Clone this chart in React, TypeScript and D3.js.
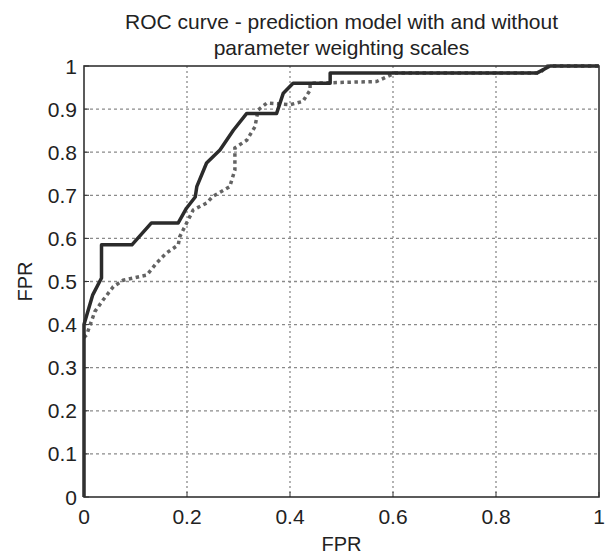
import * as d3 from 'd3';
import { useEffect, useRef } from 'react';

// ROC curve points [FPR, TPR]
const withWeighting: [number, number][] = [
  [0, 0], [0, 0.40], [0.017, 0.469], [0.034, 0.508], [0.034, 0.585], [0.093, 0.585],
  [0.131, 0.636], [0.183, 0.636], [0.199, 0.67], [0.216, 0.696], [0.219, 0.72],
  [0.238, 0.775], [0.264, 0.805], [0.29, 0.851], [0.316, 0.89], [0.374, 0.89],
  [0.387, 0.937], [0.406, 0.96], [0.478, 0.96], [0.478, 0.984], [0.88, 0.984],
  [0.905, 1], [1, 1],
];

const withoutWeighting: [number, number][] = [
  [0, 0.37], [0.005, 0.376], [0.021, 0.43], [0.037, 0.457], [0.057, 0.488], [0.076, 0.503],
  [0.122, 0.515], [0.141, 0.543], [0.16, 0.566], [0.183, 0.585], [0.186, 0.604],
  [0.199, 0.635], [0.212, 0.666], [0.238, 0.682], [0.25, 0.697], [0.283, 0.72],
  [0.293, 0.759], [0.293, 0.81], [0.316, 0.828], [0.332, 0.859], [0.338, 0.898],
  [0.355, 0.914], [0.40, 0.91], [0.425, 0.918], [0.439, 0.944], [0.439, 0.96],
  [0.568, 0.964], [0.588, 0.975], [0.604, 0.984], [0.885, 0.984], [0.9, 1], [1, 1],
];

const xTicks = [0, 0.2, 0.4, 0.6, 0.8, 1];
const yTicks = [0, 0.1, 0.2, 0.3, 0.4, 0.5, 0.6, 0.7, 0.8, 0.9, 1];
const titleLines = ['ROC curve - prediction model with and without', 'parameter weighting scales'];

const App = () => {
  const ref = useRef<SVGSVGElement>(null);

  useEffect(() => {
    const svg = d3.select(ref.current);
    svg.selectAll('*').remove();

    const margin = { top: 66, right: 9, bottom: 58, left: 84 };
    const width = 608 - margin.left - margin.right;
    const height = 555 - margin.top - margin.bottom;
    const font = 'Liberation Sans, Arial, sans-serif';

    const x = d3.scaleLinear().domain([0, 1]).range([0, width]);
    const y = d3.scaleLinear().domain([0, 1]).range([height, 0]);

    const g = svg.append('g').attr('transform', `translate(${margin.left},${margin.top})`);

    // grid lines
    g.selectAll('.vgrid')
      .data(xTicks.slice(1, -1))
      .enter()
      .append('line')
      .attr('x1', (d) => x(d))
      .attr('x2', (d) => x(d))
      .attr('y1', 0)
      .attr('y2', height)
      .attr('stroke', '#8a8a8a')
      .attr('stroke-width', 1.3)
      .attr('stroke-dasharray', '2,3');

    g.selectAll('.hgrid')
      .data(yTicks.slice(1, -1))
      .enter()
      .append('line')
      .attr('x1', 0)
      .attr('x2', width)
      .attr('y1', (d) => y(d))
      .attr('y2', (d) => y(d))
      .attr('stroke', '#8a8a8a')
      .attr('stroke-width', 1.3)
      .attr('stroke-dasharray', '3,3');

    const line = d3.line<[number, number]>()
      .x((d) => x(d[0]))
      .y((d) => y(d[1]));

    // dotted curve (without weighting)
    g.append('path')
      .datum(withoutWeighting)
      .attr('d', line)
      .attr('fill', 'none')
      .attr('stroke', '#636363')
      .attr('stroke-width', 3.5)
      .attr('stroke-dasharray', '3.5,3.5');

    // solid curve (with weighting)
    g.append('path')
      .datum(withWeighting)
      .attr('d', line)
      .attr('fill', 'none')
      .attr('stroke', '#2b2b2b')
      .attr('stroke-width', 3.5)
      .attr('stroke-linejoin', 'round');

    // box
    g.append('rect')
      .attr('x', 0)
      .attr('y', 0)
      .attr('width', width)
      .attr('height', height)
      .attr('fill', 'none')
      .attr('stroke', '#333')
      .attr('stroke-width', 1.6);

    // inner tick marks
    g.selectAll('.ytick')
      .data(yTicks)
      .enter()
      .append('line')
      .attr('x1', 0)
      .attr('x2', 5)
      .attr('y1', (d) => y(d))
      .attr('y2', (d) => y(d))
      .attr('stroke', '#333');

    g.selectAll('.xtick')
      .data(xTicks)
      .enter()
      .append('line')
      .attr('x1', (d) => x(d))
      .attr('x2', (d) => x(d))
      .attr('y1', height)
      .attr('y2', height - 5)
      .attr('stroke', '#333');

    // tick labels
    g.selectAll('.xlabel')
      .data(xTicks)
      .enter()
      .append('text')
      .attr('x', (d) => x(d))
      .attr('y', height + 27)
      .attr('text-anchor', 'middle')
      .style('font-family', font)
      .style('font-size', '21px')
      .attr('fill', '#222')
      .text((d) => String(d));

    g.selectAll('.ylabel')
      .data(yTicks)
      .enter()
      .append('text')
      .attr('x', -7)
      .attr('y', (d) => y(d) + 7.5)
      .attr('text-anchor', 'end')
      .style('font-family', font)
      .style('font-size', '21px')
      .attr('fill', '#222')
      .text((d) => String(d));

    // axis titles
    g.append('text')
      .attr('x', width / 2)
      .attr('y', height + 54)
      .attr('text-anchor', 'middle')
      .style('font-family', font)
      .style('font-size', '20px')
      .attr('fill', '#222')
      .text('FPR');

    g.append('text')
      .attr('transform', 'rotate(-90)')
      .attr('x', -height / 2)
      .attr('y', -52)
      .attr('text-anchor', 'middle')
      .style('font-family', font)
      .style('font-size', '20px')
      .attr('fill', '#222')
      .text('FPR');

    // chart title
    svg.selectAll('.title')
      .data(titleLines)
      .enter()
      .append('text')
      .attr('x', margin.left + width / 2)
      .attr('y', (d, i) => 29 + i * 26)
      .attr('text-anchor', 'middle')
      .style('font-family', font)
      .style('font-size', '21px')
      .attr('fill', '#222')
      .text((d) => d);
  }, []);

  return <svg ref={ref} width={608} height={555} style={{ position: 'absolute', left: 0, top: 0 }} />;
};

export default App;
